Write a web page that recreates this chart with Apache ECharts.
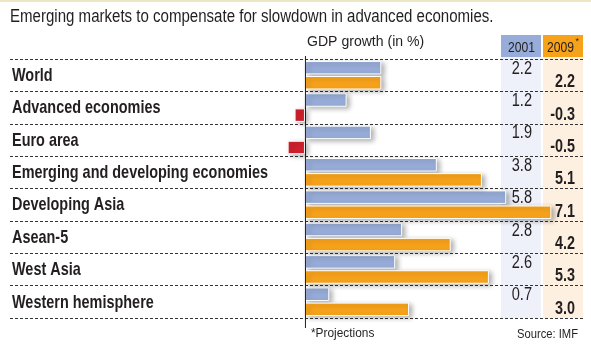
<!DOCTYPE html>
<html>
<head>
<meta charset="utf-8">
<script src="https://cdn.jsdelivr.net/npm/echarts@6/dist/echarts.min.js"></script>
<style>
  html, body { margin: 0; padding: 0; background: #fff; }
  #chart { width: 591px; height: 346px; }
</style>
</head>
<body>
<div id="chart"></div>
<script>
// GDP growth (in %), IMF; 2009 values are projections
const regions = ['World', 'Advanced economies', 'Euro area', 'Emerging and developing economies',
                 'Developing Asia', 'Asean-5', 'West Asia', 'Western hemisphere'];
const growth2001 = [2.2, 1.2, 1.9, 3.8, 5.8, 2.8, 2.6, 0.7];
const growth2009 = [2.2, -0.3, -0.5, 5.1, 7.1, 4.2, 5.3, 3.0];
const yearLabels = ['2001', '2009'];

const FONT = '"Liberation Sans", Arial, sans-serif';
const INK = '#231f20';
const BLUE = '#97acd8';
const ORANGE = '#f7a21b';
const RED = '#d0202e';

const chart = echarts.init(document.getElementById('chart'), null, { renderer: 'canvas' });

const barStyle = {
  borderColor: '#fff', borderWidth: 1,
  shadowBlur: 5, shadowOffsetX: 3, shadowOffsetY: 2, shadowColor: 'rgba(0,0,0,0.3)'
};

chart.setOption({
  animation: false,
  backgroundColor: '#fff',
  grid: { left: 10, right: 6, top: 59, bottom: 28, outerBoundsMode: 'none', containLabel: false },
  xAxis: {
    type: 'value', min: -8.5, max: 8.07,
    axisLine: { show: false }, axisTick: { show: false },
    axisLabel: { show: false }, splitLine: { show: false }
  },
  yAxis: {
    type: 'category', data: regions, inverse: true,
    axisLine: { onZero: true, lineStyle: { color: INK, width: 1 } },
    axisTick: { show: false },
    axisLabel: { show: false },
    splitLine: { show: true, lineStyle: { color: '#333', width: 1, type: [3, 2] } },
    z: 3
  },
  series: [
    {
      name: yearLabels[0], type: 'bar', data: growth2001,
      barWidth: 13.5, barGap: '12%',
      itemStyle: Object.assign({ color: BLUE }, barStyle),
      z: 4
    },
    {
      name: yearLabels[1], type: 'bar', data: growth2009,
      barWidth: 13.5, barGap: '12%',
      itemStyle: Object.assign({ color: p => (p.value < 0 ? RED : ORANGE) }, barStyle),
      z: 4
    }
  ]
});

// Condensed-looking text: a regular face squeezed horizontally about its anchor
function label(x, y, text, size, opts) {
  opts = opts || {};
  return {
    type: 'text', x: x, y: y, scaleX: opts.scaleX || 0.85, z: opts.z || 10,
    style: {
      text: text, fontFamily: FONT, fontSize: size,
      fontWeight: opts.bold ? 'bold' : 'normal', fill: INK,
      align: opts.align || 'left', verticalAlign: 'middle'
    }
  };
}

const zeroX = chart.convertToPixel({ xAxisIndex: 0 }, 0);
const rowY = regions.map(r => chart.convertToPixel({ yAxisIndex: 0 }, r));

const graphics = [
  { type: 'rect', shape: { x: 0, y: 0, width: 591, height: 2 }, style: { fill: '#ece6c4' }, z: -1 },
  // shaded value columns and their year headers
  { type: 'rect', shape: { x: 501, y: 57, width: 40, height: 261 }, style: { fill: '#eef1f9' }, z: -1 },
  { type: 'rect', shape: { x: 543, y: 57, width: 40, height: 261 }, style: { fill: '#fdf0e0' }, z: -1 },
  { type: 'rect', shape: { x: 501, y: 35, width: 40, height: 22 }, style: { fill: BLUE }, z: -1 },
  { type: 'rect', shape: { x: 543, y: 35, width: 40, height: 22 }, style: { fill: ORANGE }, z: -1 },
  label(508, 47.5, yearLabels[0], 15, { scaleX: 0.81 }),
  label(547, 47.5, yearLabels[1], 15, { scaleX: 0.81 }),
  label(575.5, 42, '*', 9, { scaleX: 1 }),
  label(10, 17, 'Emerging markets to compensate for slowdown in advanced economies.', 17.5, { scaleX: 0.86 }),
  label(307, 42, 'GDP growth (in %)', 14.5, { scaleX: 0.97 }),
  label(311, 333, '*Projections', 13.5, { scaleX: 0.88 }),
  label(578, 334, 'Source: IMF', 13.5, { scaleX: 0.83, align: 'right' }),
  // zero line, running a little past the top and bottom rules
  { type: 'line', shape: { x1: zeroX + 0.5, y1: 56, x2: zeroX + 0.5, y2: 328 },
    style: { stroke: INK, lineWidth: 1 }, z: 5 }
];

regions.forEach((name, i) => {
  const y = rowY[i];
  graphics.push(label(12, y + 0.5, name, 19, { bold: true, scaleX: 0.76 }));
  graphics.push(label(532, y - 6.5, growth2001[i].toFixed(1), 18, { scaleX: 0.81, align: 'right' }));
  graphics.push(label(575, y + 7, growth2009[i].toFixed(1), 18, { bold: true, scaleX: 0.8, align: 'right', z: 12 }));
});

chart.setOption({ graphic: graphics });
</script>
</body>
</html>
